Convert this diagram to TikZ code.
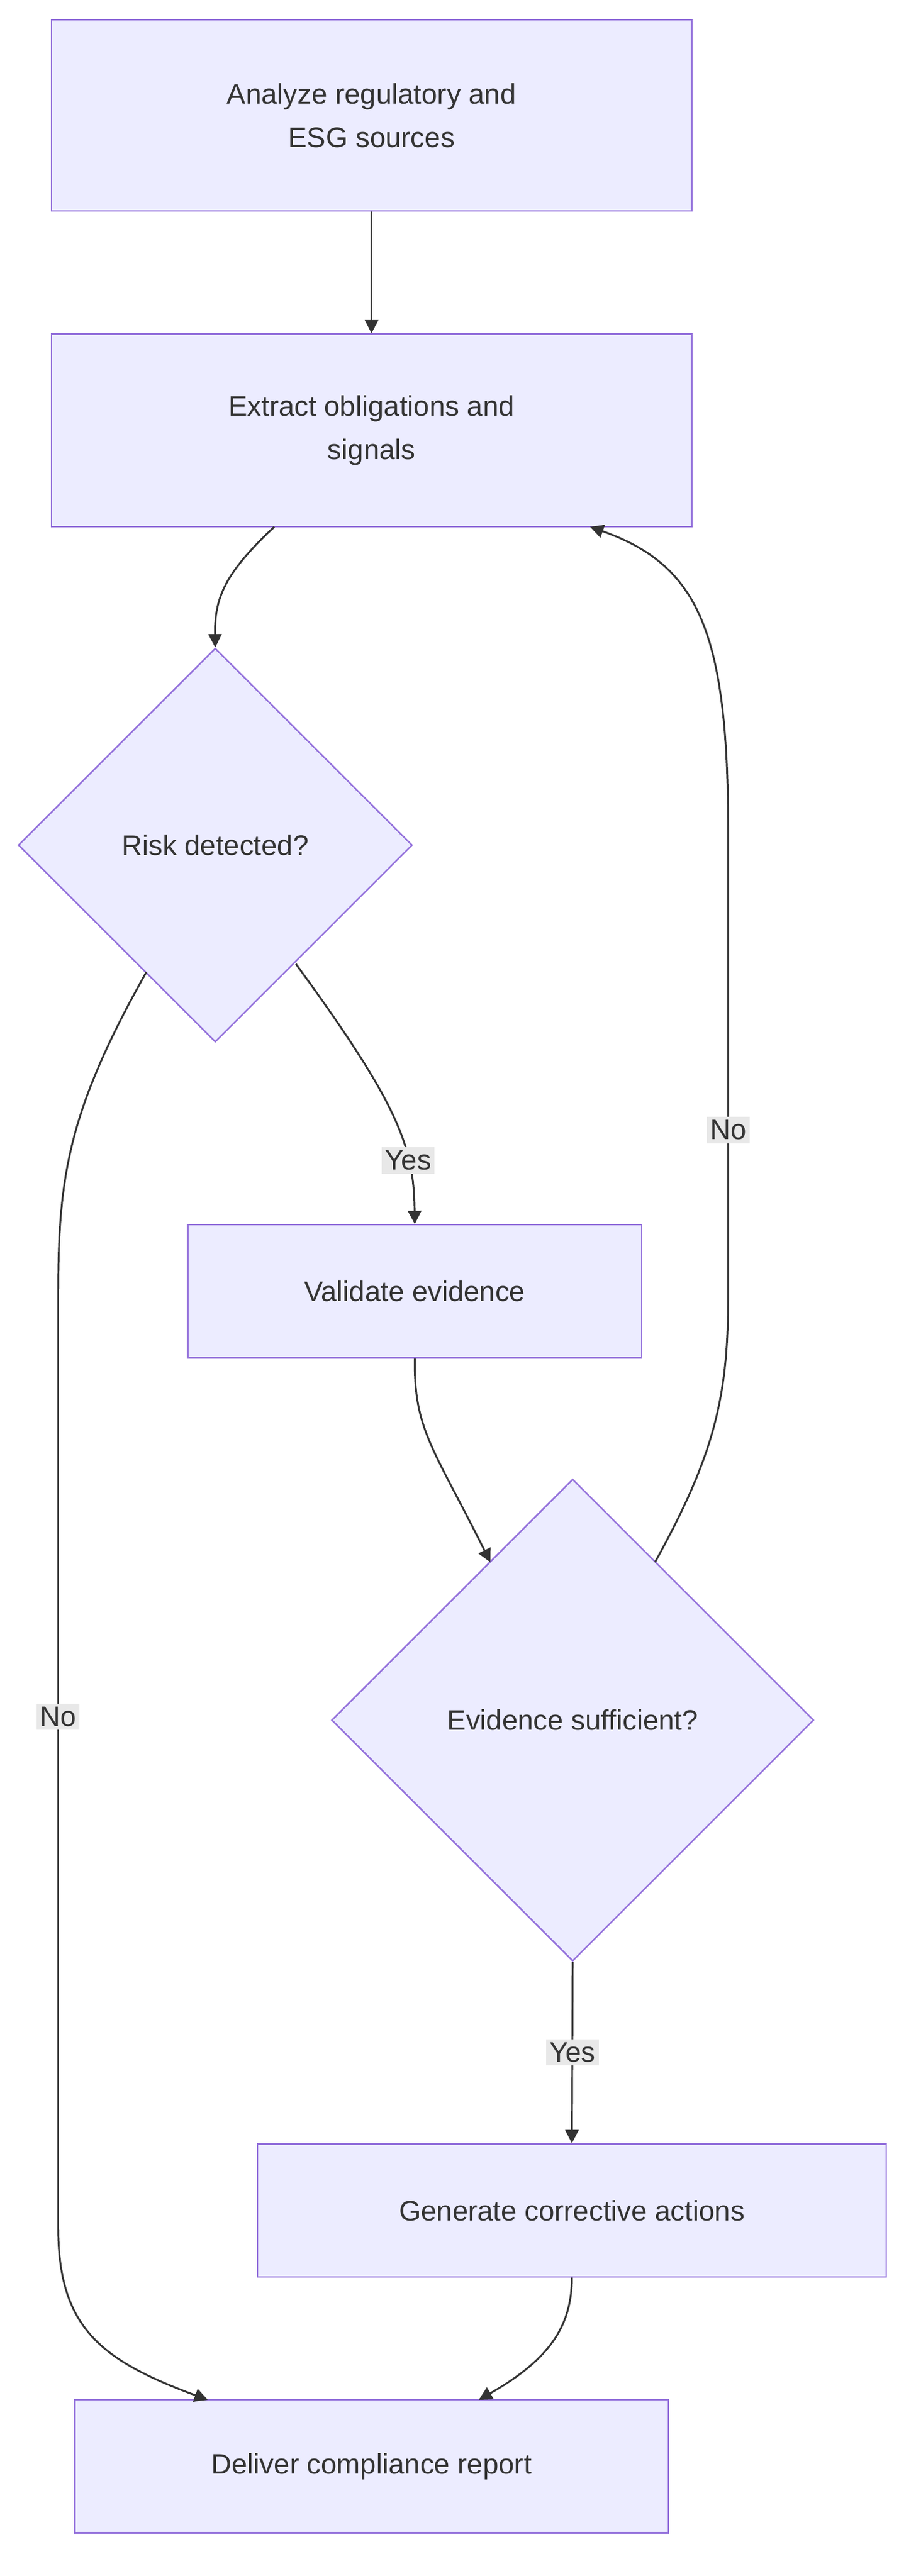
\documentclass[tikz,border=0pt]{standalone}
\usepackage{fontspec}
\setmainfont{Liberation Sans}
\usetikzlibrary{shapes.geometric,arrows.meta}
\definecolor{fillc}{HTML}{ECECFF}
\definecolor{strokec}{HTML}{9370DB}
\definecolor{txt}{HTML}{333333}
\definecolor{lab}{HTML}{E8E8E8}
\begin{document}
\begin{tikzpicture}[x=1pt,y=-1pt,
  every node/.style={font=\fontsize{17}{26}\selectfont, text=txt},
  box/.style={draw=strokec, fill=fillc, line width=0.9pt, inner sep=0, align=center},
  dia/.style={draw=strokec, fill=fillc, line width=0.9pt, diamond, inner sep=0, aspect=1},
  ln/.style={draw=txt, line width=1.1pt, -{Triangle[length=8pt,width=8pt]}},
  lbl/.style={fill=lab, inner sep=2pt, font=\fontsize{17}{20}\selectfont}]
\useasboundingbox (0,0) rectangle (551,1550);
\node[box, minimum width=385pt, minimum height=115pt] (a) at (223.5,69.5) {Analyze regulatory and\\ESG sources};
\node[box, minimum width=385pt, minimum height=116pt] (b) at (223.5,259) {Extract obligations and\\signals};
\node[dia, minimum width=237pt, minimum height=237pt] (c) at (129.5,508.5) {Risk detected?};
\node[box, minimum width=273pt, minimum height=80pt] (d) at (249.5,777) {Validate evidence};
\node[dia, minimum width=290pt, minimum height=290pt] (e) at (344.5,1035) {Evidence sufficient?};
\node[box, minimum width=378pt, minimum height=80pt] (f) at (344,1330) {Generate corrective actions};
\node[box, minimum width=357pt, minimum height=80pt] (g) at (223.5,1484) {Deliver compliance report};
\draw[ln] (a.south) -- (b.south|-b.north);
\draw[ln] (165,317) .. controls (135,345) and (129,360) .. (c.north);
\draw[ln] (178,580) .. controls (240,665) and (249,690) .. (d.north) node[lbl, pos=0.7] {Yes};
\draw[ln] (88,585) .. controls (40,670) and (35,710) .. (35,780) -- (35,1340) .. controls (35,1400) and (60,1420) .. (125,1444);
\node[lbl] (n1) at (35,1033) {No};
\draw[ln] (d.south) .. controls (249,860) and (260,870) .. (295,940);
\draw[ln] (394,940) .. controls (430,875) and (438,840) .. (438,780) -- (438,500) .. controls (438,380) and (420,340) .. (355,317);
\node[lbl] (n2) at (438,680) {No};
\draw[ln] (e.south) -- (f.north) node[lbl, midway] {Yes};
\draw[ln] (f.south) .. controls (344,1400) and (330,1420) .. (288,1444);
\end{tikzpicture}
\end{document}
